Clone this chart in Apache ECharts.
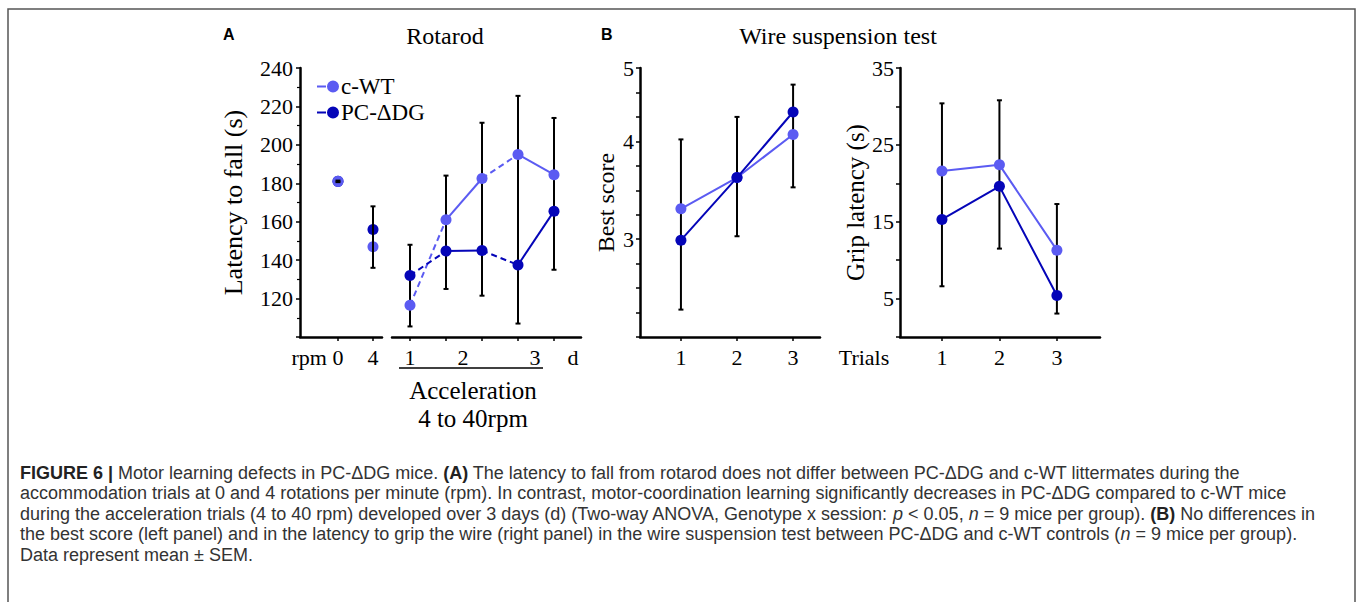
<!DOCTYPE html>
<html>
<head>
<meta charset="utf-8">
<script src="https://cdn.jsdelivr.net/npm/echarts@6/dist/echarts.min.js"></script>
<style>
html,body{margin:0;padding:0;background:#fff;}
#c{width:1357px;height:602px;}
</style>
</head>
<body>
<div id="c"></div>
<script>
// ---------- data ----------
const rpmX = [0, 4];
const rpmCwt = [181, 147];
const rpmPc = [181, 156];
const rpmErrLow = [180.6, 136];
const rpmErrHigh = [181.4, 168];
const rpmTickLabels = ['rpm', '0', '4'];

const accelX = [1, 2, 3, 4, 5];
const accelCwt = [116.5, 161, 182.5, 195, 184.5];
const accelPc = [132, 144.7, 145, 137.5, 165.5];
const accelErrLow = [105.5, 125, 121.5, 107, 135];
const accelErrHigh = [148, 184, 211.5, 225.5, 214];
const accelSegDashed = [true, false, true, false];
const dayTickLabels = ['1', '2', '3', 'd'];

const trials = [1, 2, 3];
const bestCwt = [3.31, 3.63, 4.07];
const bestPc = [2.99, 3.63, 4.30];
const bestErrLow = [2.28, 3.03, 3.53];
const bestErrHigh = [4.02, 4.25, 4.58];
const bestTickLabels = ['3', '4', '5'];

const gripCwt = [21.6, 22.4, 11.3];
const gripPc = [15.3, 19.6, 5.4];
const gripErrLow = [6.6, 11.5, 3.05];
const gripErrHigh = [30.4, 30.8, 17.3];
const gripTickLabels = ['5', '15', '25', '35'];

// ---------- styles ----------
const C_WT = '#5b5bf2';
const C_PC = '#0505b8';
const SERIF = "'Liberation Serif','Times New Roman',serif";
const SANS = "'Liberation Sans',Arial,sans-serif";
const AX = {onZero: false, lineStyle: {color: '#000', width: 2.5}};

function errRender(params, api) {
  const x = api.value(0), lo = api.value(1), hi = api.value(2);
  const p1 = api.coord([x, lo]), p2 = api.coord([x, hi]);
  const hw = 2.5;
  const st = {stroke: '#000', lineWidth: 2};
  return {type: 'group', children: [
    {type: 'line', shape: {x1: p1[0], y1: p1[1], x2: p2[0], y2: p2[1]}, style: st},
    {type: 'line', shape: {x1: p1[0] - hw, y1: p1[1], x2: p1[0] + hw, y2: p1[1]}, style: st},
    {type: 'line', shape: {x1: p2[0] - hw, y1: p2[1], x2: p2[0] + hw, y2: p2[1]}, style: st}
  ]};
}
function errSeries(xs, lo, hi, xi, z) {
  return {type: 'custom', xAxisIndex: xi, yAxisIndex: xi, renderItem: errRender, z: z,
    encode: {x: 0, y: [1, 2]}, silent: true,
    data: xs.map((x, i) => [x, lo[i], hi[i]])};
}
function pts(name, xs, ys, xi, color, z) {
  return {type: 'scatter', name: name, xAxisIndex: xi, yAxisIndex: xi, z: z,
    symbol: 'circle', symbolSize: 11, itemStyle: {color: color, opacity: 1},
    data: xs.map((x, i) => [x, ys[i]])};
}
function segs(name, xs, ys, dashed, color, z) {
  const out = [];
  for (let i = 0; i < xs.length - 1; i++) {
    out.push({type: 'line', name: name, xAxisIndex: 1, yAxisIndex: 1, z: z,
      showSymbol: false, symbol: 'none', silent: true,
      lineStyle: {color: color, width: 2, type: dashed[i] ? [6, 4] : 'solid'},
      data: [[xs[i], ys[i]], [xs[i + 1], ys[i + 1]]]});
  }
  return out;
}
function wireLine(name, xs, ys, xi, color, z) {
  return {type: 'line', name: name, xAxisIndex: xi, yAxisIndex: xi, z: z,
    symbol: 'circle', symbolSize: 11, showSymbol: true,
    itemStyle: {color: color}, lineStyle: {color: color, width: 2},
    data: xs.map((x, i) => [x, ys[i]])};
}
function nearestIdx(arr, v) {
  let b = 0;
  arr.forEach((a, i) => { if (Math.abs(a - v) < Math.abs(arr[b] - v)) b = i; });
  return b;
}

const rpmLabelPos = [-3.3, 0, 4];
const dayLabelPos = [1, 2.47, 4.47, 5.53];
const bestLabelPos = [3, 4, 4.75];

const labelStyle = {color: '#000', fontFamily: SERIF, fontSize: 22};

const option = {
  animation: false,
  backgroundColor: '#fff',
  title: [
    {text: 'A', left: 218, top: 21, textStyle: {fontFamily: SANS, fontWeight: 'bold', fontSize: 16, color: '#000'}},
    {text: 'B', left: 596, top: 21, textStyle: {fontFamily: SANS, fontWeight: 'bold', fontSize: 16, color: '#000'}},
    {text: 'Rotarod', left: 440, top: 19, textAlign: 'center', textStyle: {fontFamily: SERIF, fontWeight: 'normal', fontSize: 24, color: '#000'}},
    {text: 'Wire suspension test', left: 833, top: 19, textAlign: 'center', textStyle: {fontFamily: SERIF, fontWeight: 'normal', fontSize: 24, color: '#000'}}
  ],
  legend: {
    orient: 'vertical', left: 312, top: 70, itemGap: 3, itemWidth: 22, itemHeight: 12,
    icon: 'path://M0,5.1H9V6.9H0Z M10,6a6,6 0 1 0 12 0a6,6 0 1 0 -12 0Z',
    data: ['c-WT', 'PC-ΔDG'],
    textStyle: {fontFamily: SERIF, fontSize: 23, color: '#000', padding: [0, 0, 0, -3]},
    selectedMode: false
  },
  grid: [
    {left: 300, top: 68, width: 82, height: 269},
    {left: 392, top: 68, width: 189, height: 269},
    {left: 640, top: 68, width: 180, height: 269},
    {left: 900, top: 68, width: 200, height: 269}
  ],
  xAxis: [
    {gridIndex: 0, type: 'value', min: -4.34, max: 5.03, axisLine: AX, splitLine: {show: false},
      axisTick: {customValues: rpmX, length: 4, inside: false, lineStyle: {color: '#000', width: 1.5}},
      axisLabel: Object.assign({customValues: rpmLabelPos, margin: 9,
        formatter: v => rpmTickLabels[nearestIdx(rpmLabelPos, v)]}, labelStyle)},
    {gridIndex: 1, type: 'value', min: 0.5, max: 5.75, axisLine: AX, splitLine: {show: false},
      axisTick: {customValues: accelX, length: 4, lineStyle: {color: '#000', width: 1.5}},
      axisLabel: Object.assign({customValues: dayLabelPos, margin: 9,
        formatter: v => dayTickLabels[nearestIdx(dayLabelPos, v)]}, labelStyle)},
    {gridIndex: 2, type: 'value', min: 0.27, max: 3.48, axisLine: AX, splitLine: {show: false},
      axisTick: {customValues: trials, length: 4, lineStyle: {color: '#000', width: 1.5}},
      axisLabel: Object.assign({customValues: trials, margin: 9}, labelStyle)},
    {gridIndex: 3, type: 'value', min: 0.27, max: 3.75, axisLine: AX, splitLine: {show: false},
      axisTick: {customValues: trials, length: 4, lineStyle: {color: '#000', width: 1.5}},
      axisLabel: Object.assign({customValues: trials, margin: 9}, labelStyle)}
  ],
  yAxis: [
    {gridIndex: 0, type: 'value', min: 100, max: 240, interval: 20, axisLine: AX, splitLine: {show: false},
      name: 'Latency to fall (s)', nameLocation: 'middle', nameGap: 54, nameRotate: 90,
      nameTextStyle: {fontFamily: SERIF, fontSize: 26, color: '#000'},
      axisTick: {show: true, length: 4, lineStyle: {color: '#000', width: 1.5}},
      minorTick: {show: true, splitNumber: 2, length: 3, lineStyle: {color: '#000', width: 1.2}},
      axisLabel: Object.assign({margin: 7, formatter: v => (v === 100 ? '' : String(v))}, labelStyle)},
    {gridIndex: 1, type: 'value', min: 100, max: 240, interval: 20, show: false},
    {gridIndex: 2, type: 'value', min: 2, max: 4.75, interval: 0.25, axisLine: AX, splitLine: {show: false},
      name: 'Best score', nameLocation: 'middle', nameGap: 22, nameRotate: 90,
      nameTextStyle: {fontFamily: SERIF, fontSize: 24, color: '#000'},
      axisTick: {show: true, length: 4, lineStyle: {color: '#000', width: 1.5}},
      axisLabel: Object.assign({margin: 6, customValues: bestLabelPos,
        formatter: v => bestTickLabels[nearestIdx(bestLabelPos, v)]}, labelStyle)},
    {gridIndex: 3, type: 'value', min: 0, max: 35, interval: 5, axisLine: AX, splitLine: {show: false},
      name: 'Grip latency (s)', nameLocation: 'middle', nameGap: 29, nameRotate: 90,
      nameTextStyle: {fontFamily: SERIF, fontSize: 25, color: '#000'},
      axisTick: {show: true, length: 4, lineStyle: {color: '#000', width: 1.5}},
      axisLabel: Object.assign({margin: 6, formatter: v => (gripTickLabels.indexOf(String(v)) >= 0 ? String(v) : '')}, labelStyle)}
  ],
  series: [].concat(
    [pts('c-WT', rpmX, rpmCwt, 0, C_WT, 4), pts('PC-ΔDG', rpmX, rpmPc, 0, C_PC, 3)],
    [errSeries(rpmX, rpmErrLow, rpmErrHigh, 0, 5)],
    segs('c-WT', accelX, accelCwt, accelSegDashed, C_WT, 2),
    segs('PC-ΔDG', accelX, accelPc, accelSegDashed, C_PC, 2),
    [errSeries(accelX, accelErrLow, accelErrHigh, 1, 1)],
    [pts('c-WT', accelX, accelCwt, 1, C_WT, 4), pts('PC-ΔDG', accelX, accelPc, 1, C_PC, 4)],
    [errSeries(trials, bestErrLow, bestErrHigh, 2, 1)],
    [wireLine('c-WT', trials, bestCwt, 2, C_WT, 3), wireLine('PC-ΔDG', trials, bestPc, 2, C_PC, 4)],
    [errSeries(trials, gripErrLow, gripErrHigh, 3, 1)],
    [wireLine('c-WT', trials, gripCwt, 3, C_WT, 3), wireLine('PC-ΔDG', trials, gripPc, 3, C_PC, 4)]
  ),
  graphic: [
    {type: 'rect', shape: {x: 8, y: 9, width: 1347, height: 620}, style: {fill: 'none', stroke: '#555', lineWidth: 1.5}, silent: true},
    {type: 'line', shape: {x1: 399, y1: 368, x2: 543, y2: 368}, style: {stroke: '#000', lineWidth: 1.5}},
    {type: 'text', x: 473, y: 390, style: {text: 'Acceleration', font: "25px 'Liberation Serif', serif", fill: '#000', align: 'center', verticalAlign: 'middle'}},
    {type: 'text', x: 473, y: 418, style: {text: '4 to 40rpm', font: "25px 'Liberation Serif', serif", fill: '#000', align: 'center', verticalAlign: 'middle'}},
    {type: 'text', x: 864, y: 357, style: {text: 'Trials', font: "22px 'Liberation Serif', serif", fill: '#000', align: 'center', verticalAlign: 'middle'}}
  ]
};

// caption
const capLines = [
  '{b|FIGURE 6 |} Motor learning defects in PC-ΔDG mice. {b|(A)} The latency to fall from rotarod does not differ between PC-ΔDG and c-WT littermates during the',
  'accommodation trials at 0 and 4 rotations per minute (rpm). In contrast, motor-coordination learning significantly decreases in PC-ΔDG compared to c-WT mice',
  'during the acceleration trials (4 to 40 rpm) developed over 3 days (d) (Two-way ANOVA, Genotype x session: {i|p} < 0.05, {i|n} = 9 mice per group). {b|(B)} No differences in',
  'the best score (left panel) and in the latency to grip the wire (right panel) in the wire suspension test between PC-ΔDG and c-WT controls ({i|n} = 9 mice per group).',
  'Data represent mean ± SEM.'
];
const capY = [473, 493, 514, 534, 555];
const CAP_FS = 18;
capLines.forEach((t, i) => {
  option.graphic.push({type: 'text', x: 20, y: capY[i], silent: true,
    style: {text: t, fontFamily: SANS, fontSize: CAP_FS, fill: '#333', verticalAlign: 'middle', align: 'left',
      rich: {b: {fontWeight: 'bold', fontFamily: SANS, fontSize: CAP_FS, fill: '#222'},
             i: {fontStyle: 'italic', fontFamily: SANS, fontSize: CAP_FS, fill: '#333'}}}});
});

const chart = echarts.init(document.getElementById('c'), null, {renderer: 'svg'});
chart.setOption(option);
</script>
</body>
</html>
